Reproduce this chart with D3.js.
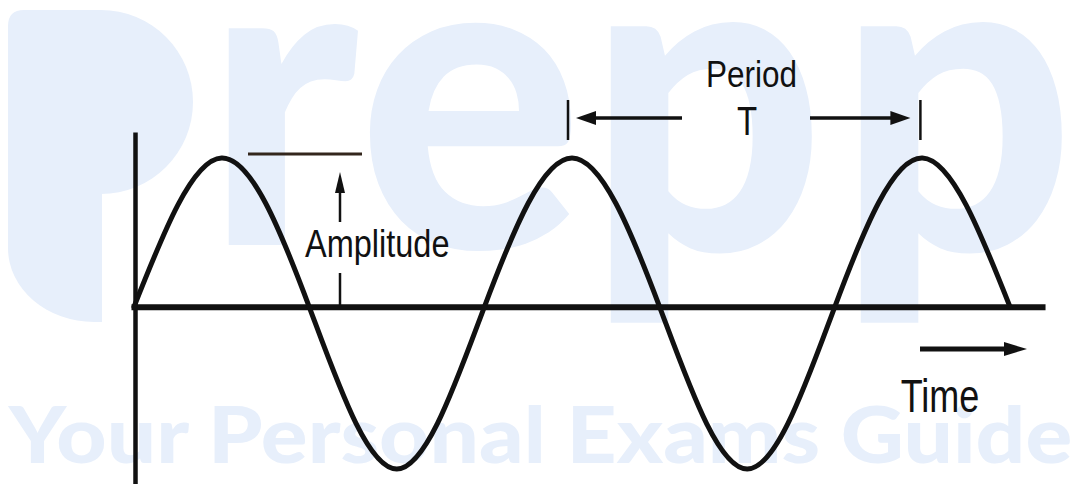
<!DOCTYPE html>
<html>
<head>
<meta charset="utf-8">
<script src="https://cdn.jsdelivr.net/npm/d3@7"></script>
<style>
  html, body { margin: 0; padding: 0; background: #ffffff; }
  svg { display: block; }
</style>
</head>
<body>
<svg id="chart" width="1075" height="484"></svg>
<script>
// ---- data ----
const timePeriods  = [0, 0.25, 0.5, 0.75, 1, 1.25, 1.5, 1.75, 2, 2.25, 2.5];   // time in periods T
const signalValues = [0, 1, 0, -1.09, 0, 1, 0, -1.09, 0, 1, 0];               // displacement (peak = 1)
const labels = { amplitude: "Amplitude", period: "Period", periodSymbol: "T", time: "Time" };
const watermarkWord = "Prepp";
const watermarkTagline = "Your Personal Exams Guide";

// ---- setup ----
const W = 1075, H = 484;
const svg = d3.select("#chart");
const WM = "#e7effb";
const INK = "#111111";

const x = d3.scaleLinear().domain([0, 2.5]).range([134, 1010]);
const y = d3.scaleLinear().domain([-1.09, 1]).range([469, 158]);

// ---- watermark ----
const wm = svg.append("g").attr("fill", WM);
const ctx = document.createElement("canvas").getContext("2d");
function fitText(str, box, family, weight) {
  const fs = 200;
  ctx.font = `${weight} ${fs}px ${family}`;
  const m = ctx.measureText(str);
  const inkW = m.actualBoundingBoxLeft + m.actualBoundingBoxRight;
  const inkH = m.actualBoundingBoxAscent + m.actualBoundingBoxDescent;
  const sx = (box[2] - box[0]) / inkW, sy = (box[3] - box[1]) / inkH;
  wm.append("text")
    .attr("transform", `translate(${box[0] + m.actualBoundingBoxLeft * sx},${box[1] + m.actualBoundingBoxAscent * sy}) scale(${sx},${sy})`)
    .attr("font-family", family).attr("font-weight", weight).attr("font-size", fs)
    .text(str);
}
// stylised capital P of the logo
wm.append("path").attr("d",
  "M8,26 Q8,10 24,10 L101,10 A92,92 0 0 1 101,194 L102,194 L102,322 L94,322 A86,74 0 0 1 8,248 Z");
const letterBoxes = [
  [228, 22, 358, 245],
  [368, 20, 572, 250],
  [610, 20, 812, 322],
  [860, 20, 1062, 322]
];
watermarkWord.slice(1).split("").forEach((ch, i) => fitText(ch, letterBoxes[i], "Lato", 900));
fitText(watermarkTagline, [8, 404, 1072, 464], "Lato", 900);

// ---- axes ----
const xAxisScale = d3.scaleLinear().domain([0, 2.6]).range([x(0) - 3, x(0) + (x(2.5) - x(0)) / 2.5 * 2.6]);
const yAxisScale = d3.scaleLinear().domain([-1.2, 1.175]).range([y(-1.2), y(1.175)]);

const gx = svg.append("g").attr("transform", `translate(0,${y(0)})`)
  .call(d3.axisBottom(xAxisScale).tickValues([]).tickSizeOuter(0));
gx.select(".domain").attr("stroke", INK).attr("stroke-width", 6);

const gy = svg.append("g").attr("transform", `translate(${x(0) + 1},0)`)
  .call(d3.axisLeft(yAxisScale).tickValues([]).tickSizeOuter(0));
gy.select(".domain").attr("stroke", INK).attr("stroke-width", 4.5);

// ---- the wave ----
const line = d3.line()
  .x((d, i) => x(timePeriods[i]))
  .y(d => y(d))
  .curve(d3.curveNatural);
svg.append("path")
  .datum(signalValues)
  .attr("d", line)
  .attr("fill", "none")
  .attr("stroke", INK)
  .attr("stroke-width", 5)
  .attr("stroke-linejoin", "round")
  .attr("stroke-linecap", "round");

// ---- annotations ----
const ann = svg.append("g");
function arrow(x1, y1, x2, y2, w, headLen, headHalf) {
  const dx = x2 - x1, dy = y2 - y1, L = Math.hypot(dx, dy);
  const ux = dx / L, uy = dy / L;
  const bx = x2 - ux * headLen, by = y2 - uy * headLen;
  ann.append("line").attr("x1", x1).attr("y1", y1).attr("x2", bx + ux * 1).attr("y2", by + uy * 1)
    .attr("stroke", INK).attr("stroke-width", w);
  ann.append("path")
    .attr("d", `M${x2},${y2} L${bx - uy * headHalf},${by + ux * headHalf} L${bx + uy * headHalf},${by - ux * headHalf} Z`)
    .attr("fill", INK);
}
function label(txt, cx, baseline, size, sy, anchor) {
  ann.append("text")
    .attr("transform", `translate(${cx},${baseline}) scale(1,${sy})`)
    .attr("text-anchor", anchor || "middle")
    .attr("font-family", "'Liberation Sans', Arial, sans-serif")
    .attr("font-size", size)
    .attr("fill", INK)
    .text(txt);
}

// amplitude marker
const ampX = 340;
ann.append("line").attr("x1", 248).attr("x2", 362).attr("y1", y(1) - 4).attr("y2", y(1) - 4)
  .attr("stroke", "#33261c").attr("stroke-width", 3);
arrow(ampX, 222, ampX, 172, 2.5, 21, 5);
ann.append("line").attr("x1", ampX).attr("x2", ampX).attr("y1", 273).attr("y2", y(0))
  .attr("stroke", INK).attr("stroke-width", 2.5);
label(labels.amplitude, 305, 257, 32.5, 1.21, "start");

// period marker
const p1 = x(1.25) - 4, p2 = x(2.25) - 2;
[p1, p2].forEach(px => ann.append("line").attr("x1", px).attr("x2", px).attr("y1", 100).attr("y2", 140)
  .attr("stroke", INK).attr("stroke-width", 2.5));
arrow(682, 118, p1 + 8, 118, 3.5, 20, 7);
arrow(810, 118, p2 - 10, 118, 3.5, 20, 7);
label(labels.period, 751.5, 87, 31.5, 1.2);
label(labels.periodSymbol, 747, 135, 33, 1.25);

// time arrow
arrow(920, 349, 1027, 349, 5, 23, 7);
label(labels.time, 940, 412, 36, 1.28);
</script>
</body>
</html>
